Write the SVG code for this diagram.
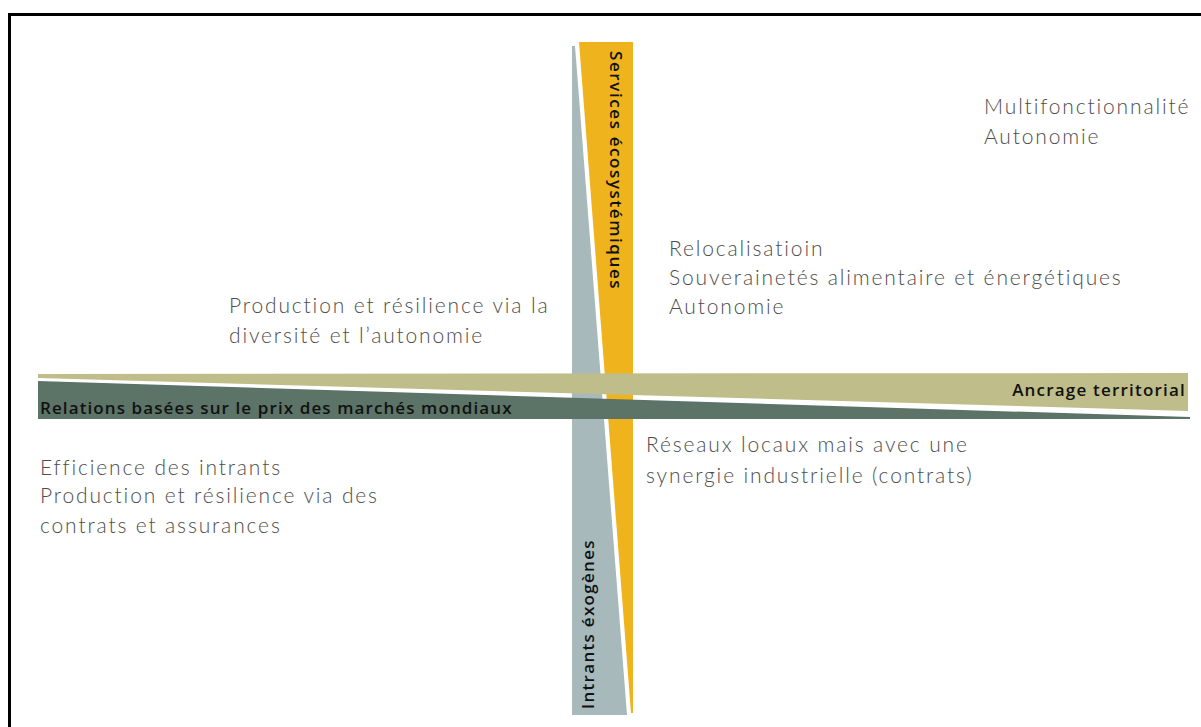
<svg xmlns="http://www.w3.org/2000/svg" width="1201" height="727" viewBox="0 0 1201 727">
<style>
.t{font-family:Lato,"Open Sans","Liberation Sans",sans-serif;font-weight:300;font-size:21px;fill:#4d4d4d;letter-spacing:1.85px}
.b{font-family:"Open Sans","Liberation Sans",sans-serif;font-weight:600;font-size:17px;fill:#111;letter-spacing:1.2px}
</style>
<rect width="1201" height="727" fill="#fff"/>
<rect x="9.5" y="14.5" width="1220" height="740" fill="none" stroke="#000" stroke-width="3"/>
<g id="axes">
<g id="intrants-exogenes">
<polygon points="572,46 575,46 627,715 572,715" fill="#A7B9BA"/>
<text class="b" style="letter-spacing:1.3px" transform="translate(594,709) rotate(-90)">Intrants éxogènes</text>
</g>
<g id="services-ecosystemiques">
<polygon points="579,42 633,42 633,713 631,713" fill="#EFB31E"/>
<text class="b" style="letter-spacing:1.6px" transform="translate(610,51) rotate(90)">Services écosystémiques</text>
</g>
<g id="ancrage-territorial">
<polygon points="38,374 1188,373 1188,411 38,378" fill="#BFBD89"/>
<text class="b" x="1186" y="396" text-anchor="end">Ancrage territorial</text>
</g>
<g id="relations-marches">
<polygon points="38,381 1190,417 1190,419 38,419" fill="#5C7367"/>
<text class="b" style="letter-spacing:1.1px" x="40" y="414">Relations basées sur le prix des marchés mondiaux</text>
</g>
</g>
<g id="q1">
<text class="t" x="984" y="114">Multifonctionnalité</text>
<text class="t" x="984" y="144">Autonomie</text>
</g>
<g id="q2">
<text class="t" x="669" y="256">Relocalisatioin</text>
<text class="t" x="669" y="285">Souverainetés alimentaire et énergétiques</text>
<text class="t" x="669" y="314">Autonomie</text>
</g>
<g id="q3">
<text class="t" x="229" y="313">Production et résilience via la</text>
<text class="t" x="229" y="343">diversité et l’autonomie</text>
</g>
<g id="q4">
<text class="t" x="646" y="452">Réseaux locaux mais avec une</text>
<text class="t" x="646" y="483">synergie industrielle (contrats)</text>
</g>
<g id="q5">
<text class="t" x="40" y="475">Efficience des intrants</text>
<text class="t" x="40" y="503">Production et résilience via des</text>
<text class="t" x="40" y="533">contrats et assurances</text>
</g>
<g id="connectors"></g>
</svg>
